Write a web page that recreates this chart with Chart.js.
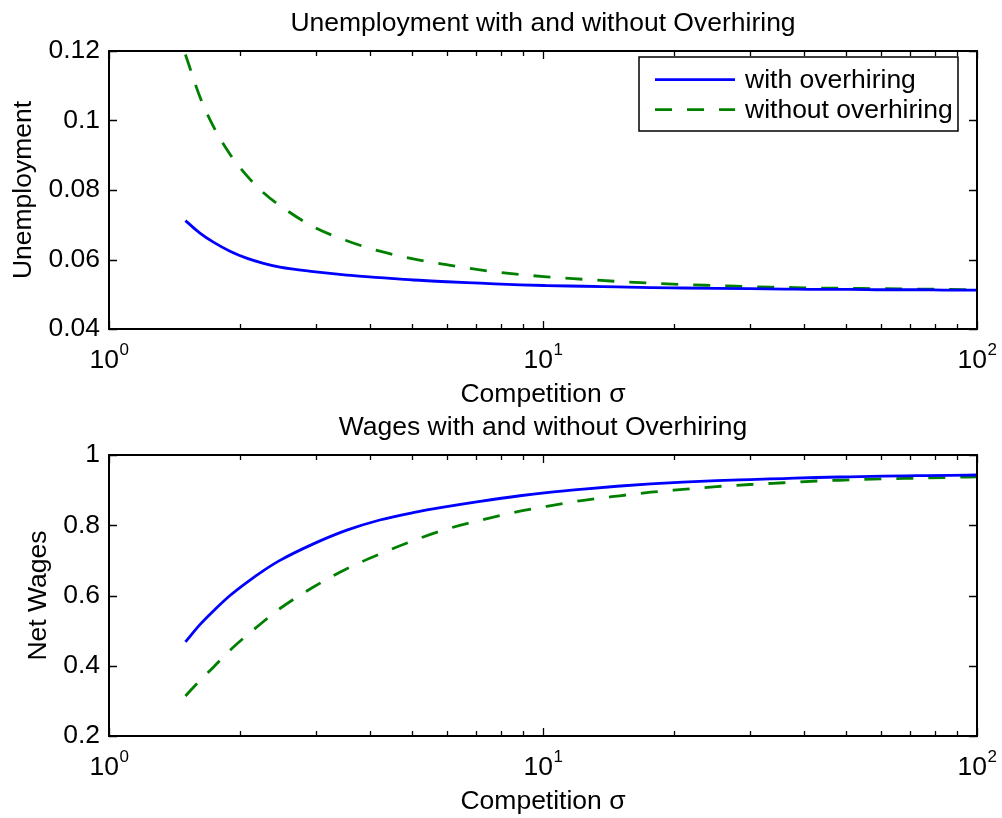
<!DOCTYPE html>
<html>
<head>
<meta charset="utf-8">
<script src="https://cdn.jsdelivr.net/npm/chart.js@4.4.1/dist/chart.umd.min.js"></script>
<style>
  html, body { margin: 0; padding: 0; background: #fff; }
  .box { position: absolute; left: 0; width: 1002px; }
</style>
</head>
<body>
<div class="box" style="top:0;height:412px"><canvas id="chart-unemp" width="1002" height="412"></canvas></div>
<div class="box" style="top:412px;height:406px"><canvas id="chart-wages" width="1002" height="406"></canvas></div>
<script>
// Datos (sigma en escala log)
const sigma = [1.5, 1.62, 1.74, 1.9, 2.075, 2.27, 2.477, 2.958, 3.532, 4.207, 5.023, 5.998, 7.161, 8.851,
               10.2, 12.4, 14.8, 17.7, 21, 25.1, 30, 35.8, 42.8, 50.9, 60.8, 72.6, 86.7, 100];
const unempWith = [0.0712, 0.0676, 0.0650, 0.0624, 0.0604, 0.0589, 0.0578, 0.0565, 0.0555, 0.0548, 0.0541,
                   0.0536, 0.0532, 0.0527, 0.0525, 0.0523, 0.0521, 0.0519, 0.0518, 0.0517, 0.0516, 0.0515,
                   0.0514, 0.0514, 0.0513, 0.0513, 0.0512, 0.0512];
const unempWithout = [0.1190, 0.1068, 0.0983, 0.0903, 0.0842, 0.0792, 0.0755, 0.0694, 0.0654, 0.0624, 0.0602,
                      0.0585, 0.0570, 0.0557, 0.0550, 0.0543, 0.0537, 0.0532, 0.0528, 0.0525, 0.0522, 0.0520,
                      0.0518, 0.0517, 0.0516, 0.0515, 0.0514, 0.0513];
const wageWith = [0.468, 0.517, 0.556, 0.600, 0.637, 0.671, 0.700, 0.747, 0.786, 0.815, 0.836, 0.853, 0.868,
                  0.884, 0.893, 0.903, 0.911, 0.918, 0.923, 0.927, 0.930, 0.933, 0.936, 0.938, 0.940, 0.941,
                  0.942, 0.943];
const wageWithout = [0.314, 0.358, 0.396, 0.444, 0.486, 0.526, 0.563, 0.624, 0.676, 0.718, 0.756, 0.789, 0.814,
                     0.840, 0.854, 0.871, 0.883, 0.894, 0.902, 0.910, 0.916, 0.921, 0.926, 0.929, 0.932, 0.934,
                     0.936, 0.938];

const unempTicks = [0.04, 0.06, 0.08, 0.1, 0.12];
const wageTicks = [0.2, 0.4, 0.6, 0.8, 1];
const xMajor = [1, 10, 100];
const xMajorExp = ['0', '1', '2'];
const xMinor = [2, 3, 4, 5, 6, 7, 8, 9, 20, 30, 40, 50, 60, 70, 80, 90];
const seriesNames = ['with overhiring', 'without overhiring'];

const colorBlue = '#0000ff';
const colorGreen = '#008000';
const fontFamily = '"Liberation Sans", Arial, Helvetica, sans-serif';
const fontSize = 26.5;
const font = size => size + 'px ' + fontFamily;

const toPoints = ys => sigma.map((s, i) => ({ x: s, y: ys[i] }));

// Ejes estilo MATLAB: caja, ticks hacia dentro, etiquetas 10^n, títulos y leyenda
const matlabAxes = {
    id: 'matlabAxes',
    afterDraw(chart, args, o) {
        const { ctx, chartArea: a, scales: { x, y } } = chart;
        ctx.save();
        ctx.strokeStyle = '#000';
        ctx.fillStyle = '#000';

        // ticks
        ctx.lineWidth = 1.3;
        ctx.beginPath();
        xMajor.concat(xMinor).forEach(v => {
            const len = xMajor.includes(v) ? 8 : 5;
            const px = Math.round(x.getPixelForValue(v)) + 0.5;
            ctx.moveTo(px, a.bottom); ctx.lineTo(px, a.bottom - len);
            ctx.moveTo(px, a.top); ctx.lineTo(px, a.top + len);
        });
        o.yTicks.forEach(v => {
            const py = Math.round(y.getPixelForValue(v)) + 0.5;
            ctx.moveTo(a.left, py); ctx.lineTo(a.left + 8, py);
            ctx.moveTo(a.right, py); ctx.lineTo(a.right - 8, py);
        });
        ctx.stroke();

        // caja
        ctx.lineWidth = 2;
        ctx.strokeRect(a.left, a.top, a.right - a.left, a.bottom - a.top);

        // etiquetas del eje x: 10 con exponente
        ctx.textBaseline = 'alphabetic';
        ctx.textAlign = 'left';
        xMajor.forEach((v, i) => {
            ctx.font = font(fontSize);
            const wBase = ctx.measureText('10').width;
            ctx.font = font(17);
            const wExp = ctx.measureText(xMajorExp[i]).width;
            const x0 = x.getPixelForValue(v) - (wBase + wExp) / 2;
            ctx.font = font(fontSize);
            ctx.fillText('10', x0, a.bottom + 38.5);
            ctx.font = font(17);
            ctx.fillText(xMajorExp[i], x0 + wBase + 0.5, a.bottom + 25.5);
        });

        const cx = (a.left + a.right) / 2;
        ctx.font = font(fontSize);
        ctx.textAlign = 'center';
        ctx.fillText(o.title, cx, a.top - 20.5);
        ctx.fillText('Competition \u03c3', cx, a.bottom + 72.5);

        ctx.save();
        ctx.translate(o.yTitleX, (a.top + a.bottom) / 2);
        ctx.rotate(-Math.PI / 2);
        ctx.fillText(o.yTitle, 0, 0);
        ctx.restore();

        // leyenda
        if (o.legend) {
            const L = o.legend;
            ctx.fillStyle = '#fff';
            ctx.fillRect(L.left, L.top, L.right - L.left, L.bottom - L.top);
            ctx.lineWidth = 1.5;
            ctx.strokeStyle = '#000';
            ctx.strokeRect(L.left, L.top, L.right - L.left, L.bottom - L.top);
            chart.data.datasets.forEach((ds, i) => {
                const ly = L.top + 22.6 + i * 30;
                ctx.strokeStyle = ds.borderColor;
                ctx.lineWidth = ds.borderWidth;
                ctx.setLineDash(ds.borderDash || []);
                ctx.beginPath();
                ctx.moveTo(L.left + 16, ly);
                ctx.lineTo(L.left + 96, ly);
                ctx.stroke();
                ctx.setLineDash([]);
                ctx.fillStyle = '#000';
                ctx.textAlign = 'left';
                ctx.fillText(ds.label, L.left + 106, ly + 8.5);
            });
        }
        ctx.restore();
    }
};

function makeChart(id, withData, withoutData, yTicks, opts) {
    const canvas = document.getElementById(id);
    return new Chart(canvas, {
        type: 'line',
        data: {
            datasets: [{
                label: seriesNames[0],
                data: toPoints(withData),
                borderColor: colorBlue,
                borderWidth: 2.8,
                pointRadius: 0,
                cubicInterpolationMode: 'monotone',
                fill: false
            }, {
                label: seriesNames[1],
                data: toPoints(withoutData),
                borderColor: colorGreen,
                borderWidth: 2.8,
                borderDash: [17, 15],
                pointRadius: 0,
                cubicInterpolationMode: 'monotone',
                fill: false
            }]
        },
        options: {
            responsive: false,
            animation: false,
            layout: { padding: { left: 0, right: 25, top: opts.top, bottom: opts.bottom } },
            plugins: {
                legend: { display: false },
                tooltip: { enabled: false },
                matlabAxes: {
                    title: opts.title,
                    yTitle: opts.yTitle,
                    yTitleX: opts.yTitleX,
                    yTicks: yTicks,
                    legend: opts.legend
                }
            },
            scales: {
                x: {
                    type: 'logarithmic',
                    min: 1,
                    max: 100,
                    grid: { display: false, drawTicks: false },
                    border: { display: false },
                    ticks: { display: false },
                    afterFit: s => { s.height = 0; }
                },
                y: {
                    min: yTicks[0],
                    max: yTicks[yTicks.length - 1],
                    grid: { display: false, drawTicks: false },
                    border: { display: false },
                    afterBuildTicks: s => { s.ticks = yTicks.map(v => ({ value: v })); },
                    afterFit: s => { s.width = 109; },
                    ticks: {
                        autoSkip: false,
                        padding: 9,
                        color: '#000',
                        font: { family: fontFamily, size: fontSize },
                        callback: v => String(+Number(v).toFixed(2))
                    }
                }
            }
        },
        plugins: [matlabAxes]
    });
}

makeChart('chart-unemp', unempWith, unempWithout, unempTicks, {
    top: 51, bottom: 83,
    title: 'Unemployment with and without Overhiring',
    yTitle: 'Unemployment',
    yTitleX: 31,
    legend: { left: 639, top: 57, right: 958, bottom: 131 }
});

makeChart('chart-wages', wageWith, wageWithout, wageTicks, {
    top: 43, bottom: 82,
    title: 'Wages with and without Overhiring',
    yTitle: 'Net Wages',
    yTitleX: 45.5
});
</script>
</body>
</html>
